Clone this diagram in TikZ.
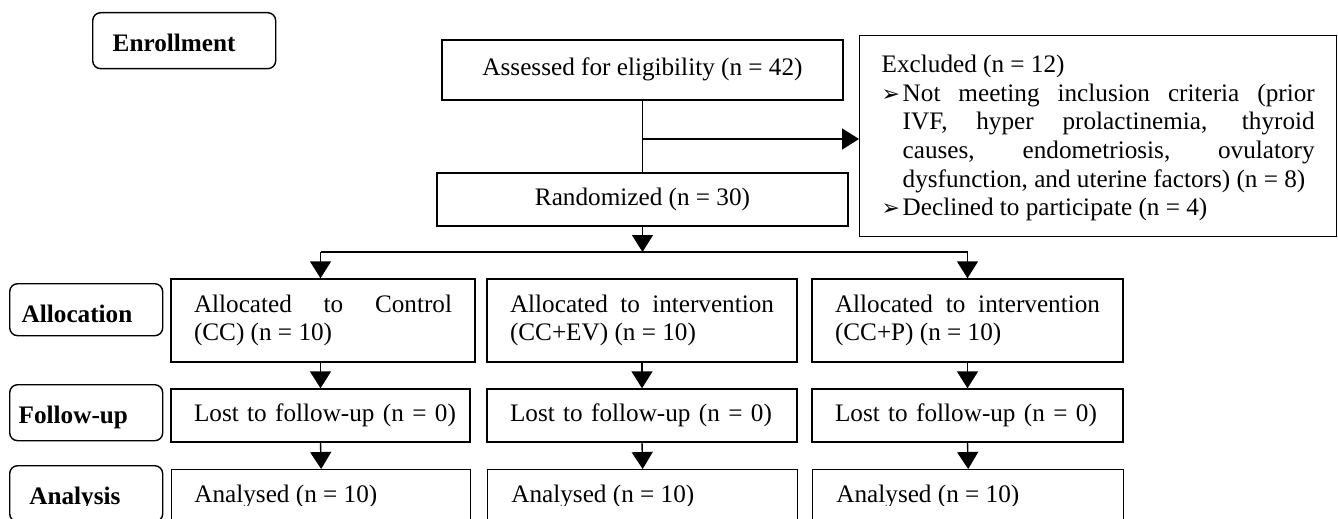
\documentclass[tikz,border=0pt]{standalone}
\usepackage{fontspec}
\setmainfont{Liberation Serif}
\newfontfamily\dingfont{DejaVu Sans}
\usetikzlibrary{arrows.meta}
\newcommand\txtsize{\fontsize{12.6pt}{14.3pt}\selectfont}
\newcommand\ptr{\makebox[10.5pt][l]{\dingfont\fontsize{11pt}{11pt}\selectfont ➢}}
\tolerance=10000
\hbadness=10000
\hfuzz=10pt

\begin{document}
\begin{tikzpicture}[x=0.5pt, y=-0.5pt,
      every node/.style={font=\txtsize},
      stage/.style={draw, line width=0.7pt, rounded corners=4pt, anchor=north west, inner sep=0pt, align=left, font=\txtsize\bfseries, text height=19.5pt},
      box/.style={draw, line width=0.7pt, inner xsep=11.5pt, inner ysep=0pt, align=left},
      one/.style={box, text height=8.6pt, text depth=2.7pt},
      arr/.style={-{Triangle[length=8.5pt,width=10.5pt]}, line width=0.7pt}]
            \useasboundingbox (0,0) rectangle (1338,519);
            \clip (0,0) rectangle (1338,519);
            \node[stage, text width=91.5pt, text depth=8.5pt] (enrol) at (92,12) {\hspace*{10pt}Enrollment};
            \node[stage, text width=76.5pt, text depth=6.5pt] (alloc) at (9,283) {\hspace*{6pt}Allocation};
            \node[stage, text width=76.5pt, text depth=8.5pt] (follow) at (9,384) {\hspace*{4.5pt}Follow-up};
            \node[stage, text width=76.5pt, text depth=8.5pt] (analysis) at (9,465) {};
            \node[one, minimum width=200.5pt, minimum height=30pt, align=center] (assess) at (642.5,70) {Assessed for eligibility (n = 42)};
            \node[one, minimum width=205.5pt, minimum height=26.5pt, align=center] (rand) at (642.5,199.5) {Randomized (n = 30)};
            \node[box, anchor=north west, inner xsep=11pt, text width=216.5pt, minimum height=100.5pt, align=justify] (excl) at (859,35) {Excluded (n = 12)\par
                  \hangindent=10.5pt\hangafter=1\ptr Not meeting inclusion criteria (prior\linebreak IVF, hyper prolactinemia, thyroid\linebreak causes, endometriosis, ovulatory\linebreak dysfunction, and uterine factors)~(n~=~8)\par
                  \ptr Declined to participate (n = 4)\par\kern-2pt};
            \node[box, minimum height=41.5pt, text width=129pt, align=justify] (allocL) at (323,320.5) {Allocated to Control\linebreak (CC) (n = 10)};
            \node[box, minimum height=41.5pt, text width=132pt, align=justify] (allocM) at (642,320.5) {Allocated to intervention\linebreak (CC+EV) (n = 10)};
            \node[box, minimum height=41.5pt, text width=132.5pt, align=justify] (allocR) at (967.5,320.5) {Allocated to intervention\linebreak (CC+P) (n = 10)};
            \node[one, minimum height=26.5pt, text width=126.5pt] (lostL) at (320.5,415.5) {\mbox{Lost to follow-up (n = 0)}};
            \node[one, minimum height=26.5pt, text width=132pt] (lostM) at (642,415.5) {\mbox{Lost to follow-up (n = 0)}};
            \node[one, minimum height=26.5pt, text width=132.5pt] (lostR) at (967.5,415.5) {\mbox{Lost to follow-up (n = 0)}};
            \node[box, anchor=north west, minimum width=149.5pt, minimum height=28pt] (anaL) at (171,469) {};
            \node[box, anchor=north west, minimum width=155pt, minimum height=28pt] (anaM) at (487,469) {};
            \node[box, anchor=north west, minimum width=155.5pt, minimum height=28pt] (anaR) at (812,469) {};
            \begin{scope}
                  \clip (0,0) rectangle (1338,505);
                  \node[anchor=base west, inner sep=0pt, font=\txtsize\bfseries] (analysistxt) at (29,504) {Analysis};
                  \node[anchor=base west, inner sep=0pt] (anaLtxt) at (194,502) {Analysed (n = 10)};
                  \node[anchor=base west, inner sep=0pt] (anaMtxt) at (511,502) {Analysed (n = 10)};
                  \node[anchor=base west, inner sep=0pt] (anaRtxt) at (836,502) {Analysed (n = 10)};
            \end{scope}
            \coordinate (split) at (642.5,139);
            \coordinate (bar) at (642.5,252);
            \draw[line width=0.7pt] (assess.south)--(rand.north);
            \draw[arr] (split)--(split -| excl.west);
            \draw[arr] (rand.south)--(bar);
            \draw[line width=0.7pt] (lostL.north |- bar)--(lostR.north |- bar);
            \foreach \c in {L,R}
                  \draw[arr] (lost\c.north |- bar)--(lost\c.north |- alloc\c.north);
            \foreach \c in {L,M,R} {
                  \draw[arr] (lost\c.north |- alloc\c.south)--(lost\c.north);
                  \draw[arr] (lost\c.south)--(ana\c.north);
            }
      \end{tikzpicture}
\end{document}
